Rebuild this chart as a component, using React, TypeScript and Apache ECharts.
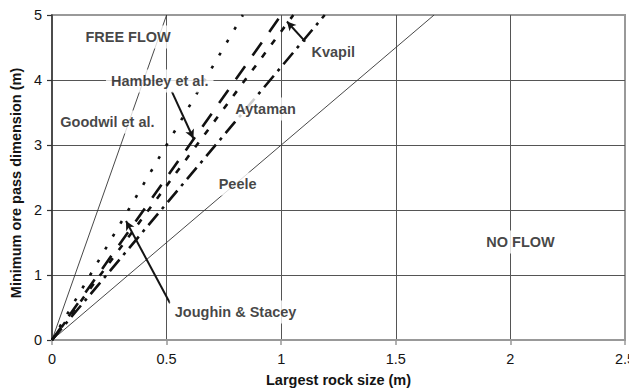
import React, { useEffect, useRef } from "react";
import * as echarts from "echarts";

// Design lines: [largest rock size (m), minimum ore pass dimension (m)]
const goodwil: number[][] = [[0, 0], [0.5, 5]];
const peele: number[][] = [[0, 0], [1.667, 5]];
const joughinStacey: number[][] = [[0, 0], [0.833, 5]];
const hambley: number[][] = [[0, 0], [1.0, 5]];
const kvapil: number[][] = [[0, 0], [1.053, 5]];
const aytaman: number[][] = [[0, 0], [1.19, 5]];

const xTicks = [0, 0.5, 1, 1.5, 2, 2.5];
const yTicks = [0, 1, 2, 3, 4, 5];

// Region / author labels placed at data coordinates
const labelNames = [
  "FREE FLOW",
  "Hambley et al.",
  "Goodwil et al.",
  "Aytaman",
  "Kvapil",
  "Peele",
  "Joughin & Stacey",
  "NO FLOW",
];
const labelX = [0.332, 0.47, 0.242, 0.932, 1.227, 0.81, 0.801, 2.044];
const labelY = [4.66, 3.985, 3.354, 3.554, 4.431, 2.4, 0.431, 1.508];

// Leader arrows: [fromX, fromY, toX, toY]
const arrows: number[][] = [
  [0.523, 3.82, 0.617, 3.1],
  [0.515, 0.565, 0.323, 1.83],
  [1.105, 4.59, 1.025, 4.9],
];

const FONT = "'Liberation Sans', Arial, Helvetica, sans-serif";
const INK = "#141414";

export default function App() {
  const ref = useRef<HTMLDivElement>(null);

  useEffect(() => {
    document.body.style.margin = "0";
    if (!ref.current) return;
    const chart = echarts.init(ref.current, undefined, { renderer: "svg" });

    const patterned = (name: string, data: number[][], dash: number[]) => ({
      name,
      type: "line",
      data,
      symbol: "none",
      z: 3,
      lineStyle: { color: "#111", width: 2.6, type: dash, cap: "butt" },
    });
    const thin = (name: string, data: number[][]) => ({
      name,
      type: "line",
      data,
      symbol: "none",
      z: 2,
      lineStyle: { color: "#333", width: 0.9, type: "solid" },
    });

    chart.setOption({
      animation: false,
      grid: {
        left: 52,
        right: 4,
        top: 15,
        bottom: 50,
        containLabel: false,
        outerBoundsMode: "none",
        show: true,
        borderColor: "#999",
        borderWidth: 2,
        backgroundColor: "#fff",
      },
      xAxis: {
        type: "value",
        min: xTicks[0],
        max: xTicks[xTicks.length - 1],
        interval: 0.5,
        name: "Largest rock size (m)",
        nameLocation: "middle",
        nameGap: 32,
        nameTextStyle: { fontFamily: FONT, fontSize: 14.5, fontWeight: "bold", color: INK },
        axisLine: { show: true, lineStyle: { color: "#999", width: 2 } },
        axisTick: { show: true, length: 5, lineStyle: { color: "#999", width: 1.5 } },
        axisLabel: { fontFamily: FONT, fontSize: 14.5, color: INK, margin: 11 },
        splitLine: { show: true, showMaxLine: false, showMinLine: false, lineStyle: { color: "#555", width: 1 } },
      },
      yAxis: {
        type: "value",
        min: yTicks[0],
        max: yTicks[yTicks.length - 1],
        interval: 1,
        name: "Minimum ore pass dimension (m)",
        nameLocation: "middle",
        nameGap: 25,
        nameTextStyle: {
          fontFamily: FONT,
          fontSize: 14.5,
          fontWeight: "bold",
          color: INK,
          padding: [0, 11, 0, 0],
        },
        axisLine: { show: true, lineStyle: { color: "#333", width: 1.5 } },
        axisTick: { show: true, length: 5, lineStyle: { color: "#333", width: 1.2 } },
        axisLabel: { fontFamily: FONT, fontSize: 14.5, color: INK, margin: 10 },
        splitLine: { show: true, showMaxLine: false, showMinLine: false, lineStyle: { color: "#555", width: 1 } },
      },
      series: [
        thin("Goodwil et al.", goodwil),
        thin("Peele", peele),
        patterned("Joughin & Stacey", joughinStacey, [3, 12]),
        patterned("Hambley et al.", hambley, [16, 13]),
        patterned("Kvapil", kvapil, [6, 10]),
        patterned("Aytaman", aytaman, [15, 6, 3, 6]),
        {
          name: "labels",
          type: "scatter",
          z: 10,
          symbolSize: 1,
          silent: true,
          itemStyle: { color: "transparent" },
          data: labelNames.map((n, i) => ({ name: n, value: [labelX[i], labelY[i]] })),
          label: {
            show: true,
            position: "inside",
            formatter: (p: any) => p.name,
            fontFamily: FONT,
            fontSize: 14.5,
            fontWeight: "bold",
            color: INK,
            backgroundColor: "#fff",
            padding: [4, 5],
          },
          markLine: {
            silent: true,
            symbol: ["none", "arrow"],
            symbolSize: [7, 9],
            label: { show: false },
            lineStyle: { color: INK, width: 2, type: "solid" },
            data: arrows.map((a) => [{ coord: [a[0], a[1]] }, { coord: [a[2], a[3]] }]),
          },
        },
      ],
    });

    return () => chart.dispose();
  }, []);

  return <div ref={ref} style={{ width: 629, height: 390 }} />;
}
